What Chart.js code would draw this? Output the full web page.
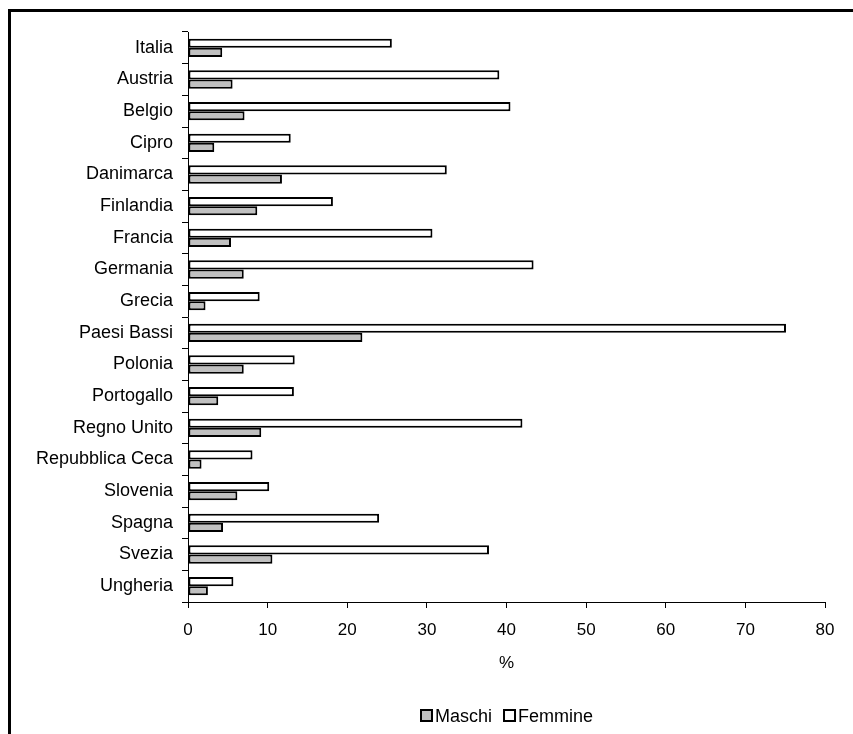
<!DOCTYPE html>
<html lang="it">
<head>
<meta charset="utf-8">
<title>Maschi e Femmine per paese (%)</title>
<script src="https://cdn.jsdelivr.net/npm/chart.js@4.4.1/dist/chart.umd.min.js"></script>
<style>
  html, body { margin: 0; padding: 0; background: #ffffff; }
  #wrap { position: relative; width: 853px; height: 734px; overflow: hidden; }
  #frame {
    position: absolute; left: 8px; top: 9px; width: 900px; height: 800px;
    border-left: 3px solid #000; border-top: 3px solid #000; box-sizing: border-box;
    pointer-events: none;
  }
  canvas { position: absolute; left: 0; top: 0; }
</style>
</head>
<body>
<div id="wrap">
  <canvas id="chart" width="853" height="734"></canvas>
  <div id="frame"></div>
</div>
<script>
// Paesi (dall'alto verso il basso)
const categories = ['Italia', 'Austria', 'Belgio', 'Cipro', 'Danimarca', 'Finlandia', 'Francia',
  'Germania', 'Grecia', 'Paesi Bassi', 'Polonia', 'Portogallo', 'Regno Unito',
  'Repubblica Ceca', 'Slovenia', 'Spagna', 'Svezia', 'Ungheria'];

// Valori percentuali
const femmine = [25.6, 39.1, 40.5, 12.9, 32.5, 18.2, 30.7, 43.4, 9.0, 75.1, 13.4, 13.3, 42.0, 8.1, 10.2, 24.0, 37.8, 5.7];
const maschi  = [4.3, 5.6, 7.1, 3.3, 11.8, 8.7, 5.4, 7.0, 2.2, 21.9, 7.0, 3.8, 9.2, 1.7, 6.2, 4.4, 10.6, 2.5];

// Etichette dell'asse orizzontale
const xTicks = [0, 10, 20, 30, 40, 50, 60, 70, 80];
const xTitle = '%';

const FONT = "'Liberation Sans', Arial, Helvetica, sans-serif";

// Legenda su una riga, centrata sotto l'area del grafico (Maschi, poi Femmine)
const legendRow = {
  id: 'legendRow',
  afterDraw(chart) {
    const ctx = chart.ctx;
    const area = chart.chartArea;
    const items = chart.data.datasets.slice().reverse();
    const box = 13, gapText = 2, gapItem = 11, y = 716;
    ctx.save();
    ctx.font = '18px ' + FONT;
    ctx.textBaseline = 'middle';
    ctx.textAlign = 'left';
    const widths = items.map(d => box + gapText + ctx.measureText(d.label).width);
    const total = widths.reduce((a, b) => a + b, 0) + gapItem * (items.length - 1);
    let x = Math.round((area.left + area.right) / 2 - total / 2);
    items.forEach((d, i) => {
      ctx.fillStyle = d.backgroundColor;
      ctx.fillRect(x, y - 7, box, box);
      ctx.lineWidth = 2;
      ctx.strokeStyle = '#000000';
      ctx.strokeRect(x + 1, y - 6, box - 2, box - 2);
      ctx.fillStyle = '#000000';
      ctx.fillText(d.label, x + box + gapText, y + 1);
      x += widths[i] + gapItem;
    });
    ctx.restore();
  }
};

new Chart(document.getElementById('chart'), {
  type: 'bar',
  data: {
    labels: categories,
    datasets: [
      {
        label: 'Femmine',
        data: femmine,
        backgroundColor: '#ffffff',
        borderColor: '#000000',
        borderWidth: 2,
        borderSkipped: false
      },
      {
        label: 'Maschi',
        data: maschi,
        backgroundColor: '#c0c0c0',
        borderColor: '#000000',
        borderWidth: 2,
        borderSkipped: false
      }
    ]
  },
  plugins: [legendRow],
  options: {
    indexAxis: 'y',
    responsive: false,
    animation: false,
    devicePixelRatio: 1,
    layout: { padding: { top: 32, right: 28, bottom: 37, left: 0 } },
    datasets: {
      bar: { categoryPercentage: 0.58, barPercentage: 1.0 }
    },
    scales: {
      x: {
        type: 'linear',
        min: xTicks[0],
        max: xTicks[xTicks.length - 1],
        afterBuildTicks: (scale) => { scale.ticks = xTicks.map(v => ({ value: v })); },
        grid: { drawOnChartArea: false, drawTicks: true, tickLength: 6, color: '#000000' },
        border: { display: true, color: '#000000', width: 1 },
        ticks: { color: '#000000', font: { family: FONT, size: 17 }, padding: 12 },
        title: { display: true, text: xTitle, color: '#000000', font: { family: FONT, size: 17 }, padding: { top: 10, bottom: 23 } },
        afterFit: (scale) => { scale.height = 95; }
      },
      y: {
        grid: { offset: true, drawOnChartArea: false, drawTicks: true, tickLength: 6, color: '#000000' },
        border: { display: true, color: '#000000', width: 1 },
        ticks: { color: '#000000', font: { family: FONT, size: 18 }, padding: 9 },
        afterFit: (scale) => { scale.width = 188; }
      }
    },
    plugins: {
      legend: { display: false },
      tooltip: { enabled: false }
    }
  }
});
</script>
</body>
</html>
